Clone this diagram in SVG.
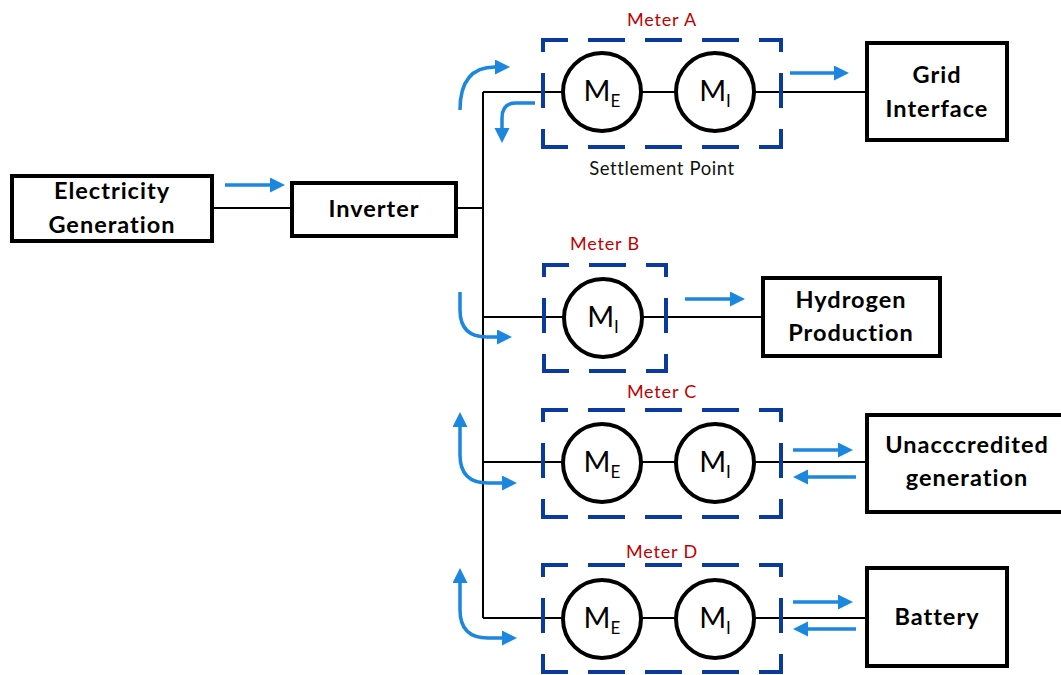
<svg xmlns="http://www.w3.org/2000/svg" width="1061" height="675" viewBox="0 0 1061 675">
<defs>
<marker id="ah" markerUnits="userSpaceOnUse" markerWidth="16" markerHeight="16" refX="11" refY="7.5" orient="auto-start-reverse">
<path d="M0,0 L15,7.5 L0,15 Z" fill="#1b87df"/>
</marker>
</defs>
<style>
.box{fill:#fff;stroke:#000;stroke-width:4}
.wire{fill:none;stroke:#000;stroke-width:2}
.meter{fill:#fff;stroke:#000;stroke-width:4}
.h{fill:none;stroke:#0a3a9e;stroke-width:4;stroke-linecap:square;stroke-dasharray:33 24;stroke-dashoffset:10}
.v{fill:none;stroke:#0a3a9e;stroke-width:4;stroke-linecap:square;stroke-dasharray:31 25;stroke-dashoffset:21}
.flow{fill:none;stroke:#1b87df;stroke-width:3.5;marker-end:url(#ah)}
.both{marker-start:url(#ah)}
.lbl{font-family:Lato,"Liberation Sans",sans-serif;font-weight:bold;font-size:23.5px;letter-spacing:1px;fill:#000;text-anchor:middle}
.m{font-family:Lato,"Liberation Sans",sans-serif;font-size:29px;fill:#000;text-anchor:middle}
.sub{font-size:17px}
.red{font-family:Lato,"Liberation Sans",sans-serif;font-size:18px;letter-spacing:0.8px;fill:#c00000;text-anchor:middle}
.note{font-family:Lato,"Liberation Sans",sans-serif;font-size:18.5px;letter-spacing:0.6px;fill:#111;text-anchor:middle}
</style>

<g id="connectors">
<path class="wire" d="M212,208 H292"/>
<path class="wire" d="M456,208 H483"/>
<path class="wire" d="M483,92 V618"/>
<path class="wire" d="M483,92 H867"/>
<path class="wire" d="M483,317 H763"/>
<path class="wire" d="M483,462 H867"/>
<path class="wire" d="M483,618 H867"/>
<path class="flow" d="M225,185 H281"/>
<path class="flow" d="M460,110 C460,84 470,67 495,67 H506"/>
<path class="flow" d="M535,103 H516 Q502,103 502,118 V139"/>
<path class="flow" d="M460,292 V310 Q460,337 487,337 H508"/>
<path class="flow both" d="M460,416 V455 Q460,483 488,483 H513"/>
<path class="flow both" d="M460,572 V610 Q460,638 488,638 H513"/>
<path class="flow" d="M790,73 H845"/>
<path class="flow" d="M685,299 H741"/>
<path class="flow" d="M793,450 H849"/>
<path class="flow" d="M856,477 H797"/>
<path class="flow" d="M793,602 H849"/>
<path class="flow" d="M856,629 H797"/>
</g>

<g id="electricity-generation">
<rect class="box" x="12" y="176" width="200" height="65"/>
<text class="lbl" x="112" y="199">Electricity</text>
<text class="lbl" x="112" y="233">Generation</text>
</g>
<g id="inverter">
<rect class="box" x="292" y="183" width="164" height="53"/>
<text class="lbl" x="374" y="217">Inverter</text>
</g>
<g id="grid-interface">
<rect class="box" x="867" y="43" width="140" height="97"/>
<text class="lbl" x="937" y="83">Grid</text>
<text class="lbl" x="937" y="117">Interface</text>
</g>
<g id="hydrogen-production">
<rect class="box" x="763" y="278" width="177" height="78"/>
<text class="lbl" x="851" y="308">Hydrogen</text>
<text class="lbl" x="851" y="341">Production</text>
</g>
<g id="unaccredited-generation">
<rect class="box" x="867" y="415" width="200" height="97"/>
<text class="lbl" x="967" y="453">Unacccredited</text>
<text class="lbl" x="967" y="486">generation</text>
</g>
<g id="battery">
<rect class="box" x="867" y="568" width="140" height="98"/>
<text class="lbl" x="937" y="625">Battery</text>
</g>

<g id="meter-a">
<path class="h" d="M543,40 H781"/><path class="h" d="M543,147 H781"/>
<path class="v" d="M543,40 V147"/><path class="v" d="M781,40 V147"/>
<circle class="meter" cx="602" cy="92" r="39"/>
<circle class="meter" cx="715" cy="92" r="39"/>
<text class="m" x="602" y="101">M<tspan class="sub" dy="6">E</tspan></text>
<text class="m" x="715" y="101">M<tspan class="sub" dy="6">I</tspan></text>
<text class="red" x="662" y="26">Meter A</text>
<text class="note" x="662" y="175">Settlement Point</text>
</g>
<g id="meter-b">
<path class="h" d="M544,265 H666"/><path class="h" d="M544,371 H666"/>
<path class="v" d="M544,265 V371"/><path class="v" d="M666,265 V371"/>
<circle class="meter" cx="603" cy="318" r="39"/>
<text class="m" x="603" y="327">M<tspan class="sub" dy="6">I</tspan></text>
<text class="red" x="605" y="250">Meter B</text>
</g>
<g id="meter-c">
<path class="h" d="M543,410 H781"/><path class="h" d="M543,517 H781"/>
<path class="v" d="M543,410 V517"/><path class="v" d="M781,410 V517"/>
<circle class="meter" cx="602" cy="463" r="39"/>
<circle class="meter" cx="715" cy="463" r="39"/>
<text class="m" x="602" y="472">M<tspan class="sub" dy="6">E</tspan></text>
<text class="m" x="715" y="472">M<tspan class="sub" dy="6">I</tspan></text>
<text class="red" x="662" y="398">Meter C</text>
</g>
<g id="meter-d">
<path class="h" d="M543,565 H781"/><path class="h" d="M543,672 H781"/>
<path class="v" d="M543,565 V672"/><path class="v" d="M781,565 V672"/>
<circle class="meter" cx="602" cy="619" r="39"/>
<circle class="meter" cx="715" cy="619" r="39"/>
<text class="m" x="602" y="628">M<tspan class="sub" dy="6">E</tspan></text>
<text class="m" x="715" y="628">M<tspan class="sub" dy="6">I</tspan></text>
<text class="red" x="662" y="558">Meter D</text>
</g>
</svg>
